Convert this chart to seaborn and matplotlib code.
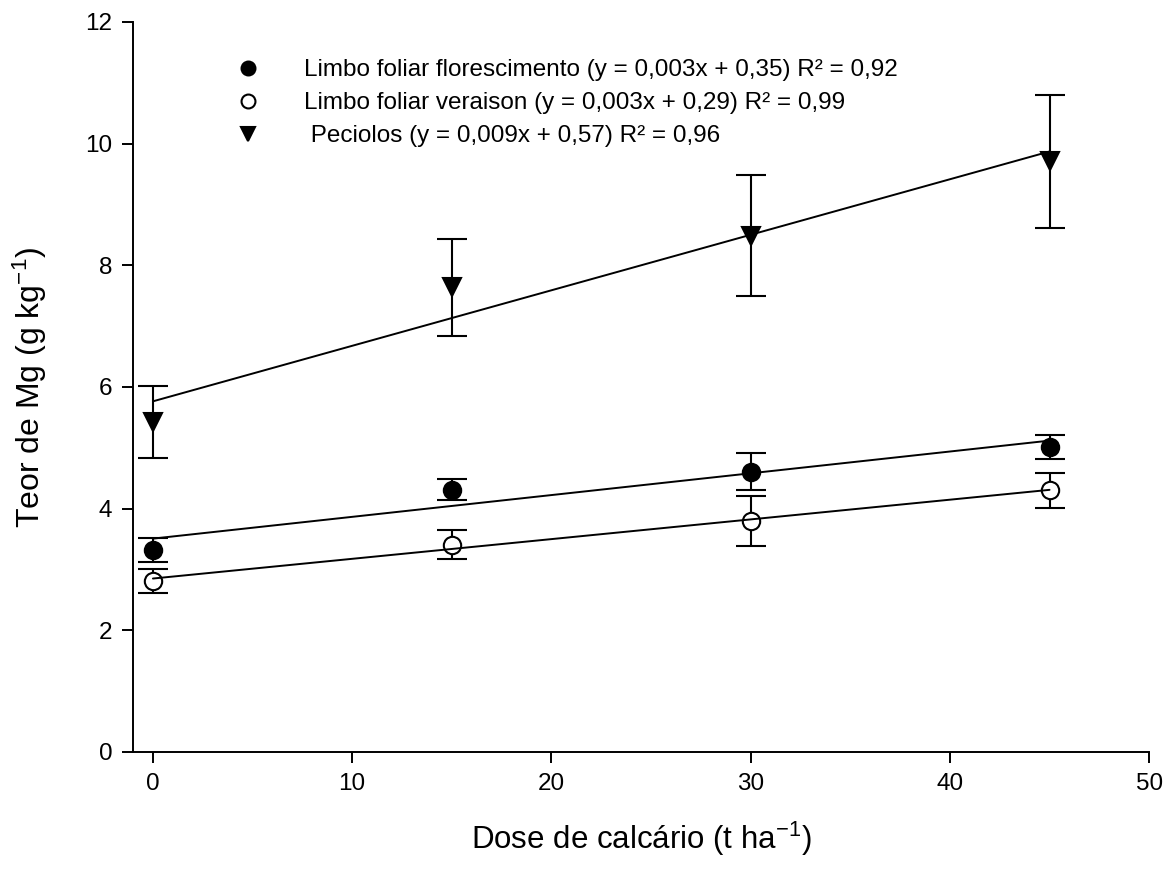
import numpy as np
import pandas as pd
import matplotlib
matplotlib.use('Agg')
import matplotlib.pyplot as plt
import seaborn as sns

dose = [0, 15, 30, 45]

flor_mean = [3.32, 4.31, 4.61, 5.01]
flor_err = [0.20, 0.17, 0.31, 0.20]

ver_mean = [2.81, 3.41, 3.80, 4.30]
ver_err = [0.20, 0.24, 0.41, 0.29]

pec_mean = [5.43, 7.64, 8.49, 9.71]
pec_err = [0.59, 0.80, 1.00, 1.09]

labels = [
    'Limbo foliar florescimento (y = 0,003x + 0,35) R² = 0,92',
    'Limbo foliar veraison (y = 0,003x + 0,29) R² = 0,99',
    ' Peciolos (y = 0,009x + 0,57) R² = 0,96',
]

sns.set_style("ticks")
plt.rcParams['font.family'] = ['Liberation Sans', 'DejaVu Sans']
plt.rcParams['mathtext.default'] = 'regular'
plt.rcParams['text.color'] = 'black'
plt.rcParams['axes.labelcolor'] = 'black'
plt.rcParams['xtick.color'] = 'black'
plt.rcParams['ytick.color'] = 'black'
plt.rcParams['axes.edgecolor'] = 'black'

fig = plt.figure(figsize=(11.75, 8.76), dpi=100)
ax = fig.add_axes([0.1132, 0.1416, 0.8648, 0.8333])

series = [
    (flor_mean, flor_err, 'o', 'black', labels[0]),
    (ver_mean, ver_err, 'o', 'white', labels[1]),
    (pec_mean, pec_err, 'v', 'black', labels[2]),
]

handles = []
for mean, err, mk, fc, lab in series:
    df = pd.DataFrame({'dose': dose, 'teor': mean})
    ax.errorbar(df['dose'], df['teor'], yerr=err, fmt='none', ecolor='black',
                elinewidth=1.5, capsize=10.5, capthick=1.5, zorder=2)
    h, = ax.plot(df['dose'], df['teor'], linestyle='none', marker=mk,
                 markersize=12.5, markerfacecolor=fc, markeredgecolor='black',
                 markeredgewidth=1.5, zorder=3, label=lab)
    sns.regplot(data=df, x='dose', y='teor', ax=ax, scatter=False, ci=None,
                line_kws={'color': 'black', 'lw': 1.4, 'zorder': 4})
    handles.append(h)

ax.set_xlim(-1, 50)
ax.set_ylim(0, 12)
ax.set_xticks(range(0, 51, 10))
ax.set_yticks(range(0, 13, 2))
ax.tick_params(axis='both', labelsize=17.5, length=8, width=1.4, direction='out', pad=7)
for s in ['left', 'bottom']:
    ax.spines[s].set_linewidth(1.4)
sns.despine(ax=ax)

ax.set_xlabel('Dose de calcário (t ha$^{-1}$)', fontsize=22.5, labelpad=18)
ax.set_ylabel('Teor de Mg (g kg$^{-1}$)', fontsize=23, labelpad=26)

leg = ax.legend(handles=handles, loc='upper left', bbox_to_anchor=(0.08, 0.962),
                frameon=False, fontsize=17.5, markerscale=0.8,
                handletextpad=1.3, labelspacing=0.45, borderaxespad=0)

fig.savefig('out.png', dpi=100)
